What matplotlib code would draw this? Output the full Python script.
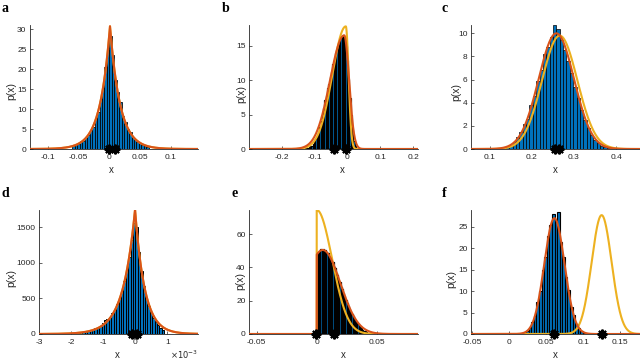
import numpy as np
import matplotlib
matplotlib.use('Agg')
import matplotlib.pyplot as plt
from matplotlib.ticker import FuncFormatter

plt.rcParams['font.family'] = ['Liberation Sans', 'DejaVu Sans']
plt.rcParams['axes.unicode_minus'] = False

BLUE = '#0072BD'
RED = '#D95319'
YEL = '#EDB120'
AXC = '#262626'

# ---------------- data ----------------
# histogram: first bin edge, bin width, heights
a_bin_start, a_bin_width = -0.060, 0.004
a_counts = [0.8, 1.0, 1.3, 1.9, 2.0, 3.0, 3.4, 4.8, 5.6, 7.8, 9.2, 12.5, 15.2, 20.5, 24.8,
            28.2, 23.5, 17.2, 14.3, 11.8, 8.2, 6.8, 5.0, 4.3, 3.0, 2.6, 1.8, 1.4, 1.1, 0.8, 0.6]
b_bin_start, b_bin_width = -0.130, 0.004
b_counts = [0.1, 0.2, 0.2, 0.3, 0.4, 0.5, 0.7, 1.0, 1.4, 1.9, 2.5, 3.2, 4.0, 5.0, 5.9, 7.1,
            7.7, 8.8, 9.5, 10.5, 11.2, 12.3, 12.9, 13.9, 14.4, 15.2, 15.5, 16.1, 16.3, 16.5,
            16.2, 15.0, 12.9, 10.2, 7.4, 4.9, 2.8, 1.2, 0.4, 0.1]
c_bin_start, c_bin_width = 0.138, 0.008
c_counts = [0.15, 0.3, 0.6, 1.0, 1.5, 2.2, 2.6, 3.8, 4.6, 5.9, 6.8, 8.2, 8.8, 9.7, 10.7,
            10.4, 9.4, 8.6, 7.6, 6.6, 5.4, 4.4, 3.4, 2.5, 1.8, 1.2, 0.8, 0.5, 0.3, 0.15, 0.08]
d_bin_start, d_bin_width = -3.0e-3, 0.075e-3
d_counts = [3, 0, 6, 0, 2, 8, 0, 4, 5, 0, 9, 3, 6, 14, 9, 18, 15, 26, 22, 35, 44, 50, 62, 80,
            95, 118, 150, 195, 210, 240, 290, 345, 420, 505, 610, 745, 905, 1090, 1320, 1560,
            1500, 1150, 880, 680, 520, 400, 300, 230, 170, 130, 90, 60]
e_bin_start, e_bin_width = 0.0, 0.001
e_counts = [47.5, 49.5, 49.0, 50.8, 50.0, 51.0, 49.6, 50.3, 48.5, 48.6, 46.5, 46.2, 43.8, 43.0,
            40.2, 39.6, 36.5, 35.6, 32.4, 31.2, 28.3, 27.0, 24.5, 22.6, 20.4, 18.8, 16.8, 15.1,
            13.5, 12.0, 10.6, 9.3, 8.1, 7.0, 6.0, 5.0, 4.2, 3.4, 2.7, 2.1, 1.6, 1.2, 0.8, 0.5, 0.3]
f_bin_start, f_bin_width = 0.01575, 0.0035
f_counts = [0.2, 0.4, 0.8, 1.4, 2.9, 4.2, 7.4, 10.0, 14.8, 18.0, 22.8, 25.5, 28.0, 26.0, 28.5,
            21.5, 18.0, 13.2, 10.3, 6.2, 4.4, 2.3, 1.5, 0.6, 0.3, 0.1]

# fitted curves: (kind, location, left scale, right scale, peak height)
a_red = ('laplace', 0.001, 0.0163, 0.0163, 30.7)
a_yel = ('laplace', 0.001, 0.0163, 0.0163, 30.7)
b_red = ('twonorm', -0.010, 0.043, 0.015, 16.5)
b_yel = ('twonorm', -0.005, 0.041, 0.0085, 17.8)
c_red = ('twonorm', 0.258, 0.042, 0.042, 10.0)
c_yel = ('twonorm', 0.266, 0.042, 0.042, 9.8)
d_red = ('laplace', -0.01e-3, 0.38e-3, 0.30e-3, 1750)
d_yel = ('laplace', -0.01e-3, 0.38e-3, 0.30e-3, 1750)
e_red = ('halfnorm', 0.005, 0.0147, 0.0147, 50.5)
e_yel = ('halfnorm', 0.0, 0.0128, 0.0128, 74.5)
f_red = ('twonorm', 0.061, 0.0137, 0.0137, 27.0)
f_yel = ('twonorm', 0.125, 0.0135, 0.0135, 27.7)

# means marked with asterisks
a_stars = [0.0, 0.009]
b_stars = [-0.041, -0.004]
c_stars = [0.255, 0.264]
d_stars = [-0.1e-3, 0.05e-3]
e_stars = [-0.0005, 0.0145]
f_stars = [0.061, 0.125]

a_xlim, a_ylim = (-0.129, 0.144), (0, 31)
b_xlim, b_ylim = (-0.3, 0.215), (0, 18)
c_xlim, c_ylim = (0.055, 0.457), (0, 10.72)
d_xlim, d_ylim = (-3.0e-3, 1.95e-3), (0, 1745)
e_xlim, e_ylim = (-0.0565, 0.0845), (0, 74.5)
f_xlim, f_ylim = (-0.052, 0.177), (0, 28.9)

a_xticks, a_yticks = [-0.1, -0.05, 0, 0.05, 0.1], [0, 5, 10, 15, 20, 25, 30]
b_xticks, b_yticks = [-0.2, -0.1, 0, 0.1, 0.2], [0, 5, 10, 15]
c_xticks, c_yticks = [0.1, 0.2, 0.3, 0.4], [0, 2, 4, 6, 8, 10]
d_xticks, d_yticks = [-3e-3, -2e-3, -1e-3, 0, 1e-3], [0, 500, 1000, 1500]
e_xticks, e_yticks = [-0.05, 0, 0.05], [0, 20, 40, 60]
f_xticks, f_yticks = [-0.05, 0, 0.05, 0.1, 0.15], [0, 5, 10, 15, 20, 25]

letters = ['a', 'b', 'c', 'd', 'e', 'f']

# ---------------- layout (pixels: left, top, right, bottom) ----------------
boxes = {
    'a': (30, 25, 198, 149), 'b': (249, 25, 418, 149), 'c': (471, 25, 640, 149),
    'd': (39, 210, 198, 334), 'e': (249, 210, 418, 334), 'f': (471, 210, 640, 334),
}
edge_lw = {'a': 0.55, 'b': 0.85, 'c': 0.5, 'd': 0.7, 'e': 0.9, 'f': 0.8}
letter_pos = {'a': (2, 11.7), 'b': (221.5, 11.7), 'c': (442, 11.7),
              'd': (1.5, 196.7), 'e': (231.5, 196.7), 'f': (442, 196.7)}
ylabel_x = {'a': -0.113, 'b': -0.045, 'c': -0.087, 'd': -0.176, 'e': -0.054, 'f': -0.118}
ylabel_y = {'a': 0.47, 'b': 0.44, 'c': 0.46, 'd': 0.45, 'e': 0.43, 'f': 0.44}
xlabel_x = {'a': 0.487, 'b': 0.553, 'c': 0.5, 'd': 0.49, 'e': 0.56, 'f': 0.5}

W, H = 640, 360
fig = plt.figure(figsize=(W / 100, H / 100), dpi=100)


def curve(params, xlim):
    kind, m, sl, sr, pk = params
    x = np.linspace(xlim[0], xlim[1], 3000)
    if kind == 'laplace':
        y = np.where(x < m, pk * np.exp((x - m) / sl), pk * np.exp(-(x - m) / sr))
        return x, y
    if kind == 'twonorm':
        s = np.where(x < m, sl, sr)
        return x, pk * np.exp(-0.5 * ((x - m) / s) ** 2)
    # half / truncated normal starting at 0
    xn = x[x < 0]
    xp = np.concatenate([[0.0], x[x > 0]])
    yp = pk * np.exp(-0.5 * ((xp - m) / sl) ** 2)
    return np.concatenate([xn, xp]), np.concatenate([np.zeros_like(xn), yp])


def fmt(v, pos):
    return '%g' % round(v, 6)


for L in letters:
    g = globals()
    left, top, right, bottom = boxes[L]
    ax = fig.add_axes([left / W, 1 - bottom / H, (right - left) / W, (bottom - top) / H])
    counts = g[L + '_counts']
    start, width = g[L + '_bin_start'], g[L + '_bin_width']
    centers = start + width * (np.arange(len(counts)) + 0.5)
    ax.bar(centers, counts, width=width, color=BLUE, edgecolor='black',
           linewidth=edge_lw[L], zorder=2)
    xlim = g[L + '_xlim']
    xy, yy = curve(g[L + '_yel'], xlim)
    ax.plot(xy, yy, color=YEL, lw=1.5, zorder=3)
    xr, yr = curve(g[L + '_red'], xlim)
    ax.plot(xr, yr, color=RED, lw=1.5, zorder=4)
    st = g[L + '_stars']
    ax.plot(st, np.zeros(len(st)), linestyle='none', marker=(8, 2, 0), color='black',
            ms=7, mew=1.5, clip_on=False, zorder=6)
    ax.set_xlim(*xlim)
    ax.set_ylim(*g[L + '_ylim'])
    ax.set_xticks(g[L + '_xticks'])
    ax.set_yticks(g[L + '_yticks'])
    if L == 'd':
        ax.xaxis.set_major_formatter(FuncFormatter(lambda v, p: '%g' % round(v * 1e3, 6)))
        ax.text(1.0, -0.165, r'$\times10^{-3}$', transform=ax.transAxes, ha='right', va='center',
                fontsize=6, color=AXC)
    else:
        ax.xaxis.set_major_formatter(FuncFormatter(fmt))
    ax.yaxis.set_major_formatter(FuncFormatter(fmt))
    for s in ['top', 'right']:
        ax.spines[s].set_visible(False)
    for s in ['left', 'bottom']:
        ax.spines[s].set_color(AXC)
        ax.spines[s].set_linewidth(0.6)
        ax.spines[s].set_zorder(1)
    ax.tick_params(direction='in', length=2, width=0.5, labelsize=6.0,
                   colors=AXC, labelcolor=AXC)
    ax.tick_params(axis='x', pad=3.5)
    ax.tick_params(axis='y', pad=2.5)
    ax.set_xlabel('x', fontsize=7, color=AXC)
    ax.set_ylabel('p(x)', fontsize=7.5, color=AXC)
    ax.xaxis.label.set_va('center')
    ax.yaxis.label.set_va('center')
    ax.xaxis.set_label_coords(xlabel_x[L], -0.17)
    ax.yaxis.set_label_coords(ylabel_x[L], ylabel_y[L])
    ax.patch.set_alpha(0)
    lx, ly = letter_pos[L]
    fig.text(lx / W, 1 - ly / H, L, family=['Liberation Serif', 'DejaVu Serif'],
             fontweight='bold', fontsize=10, va='baseline', ha='left', color='black')

fig.savefig('out.png', dpi=100)
